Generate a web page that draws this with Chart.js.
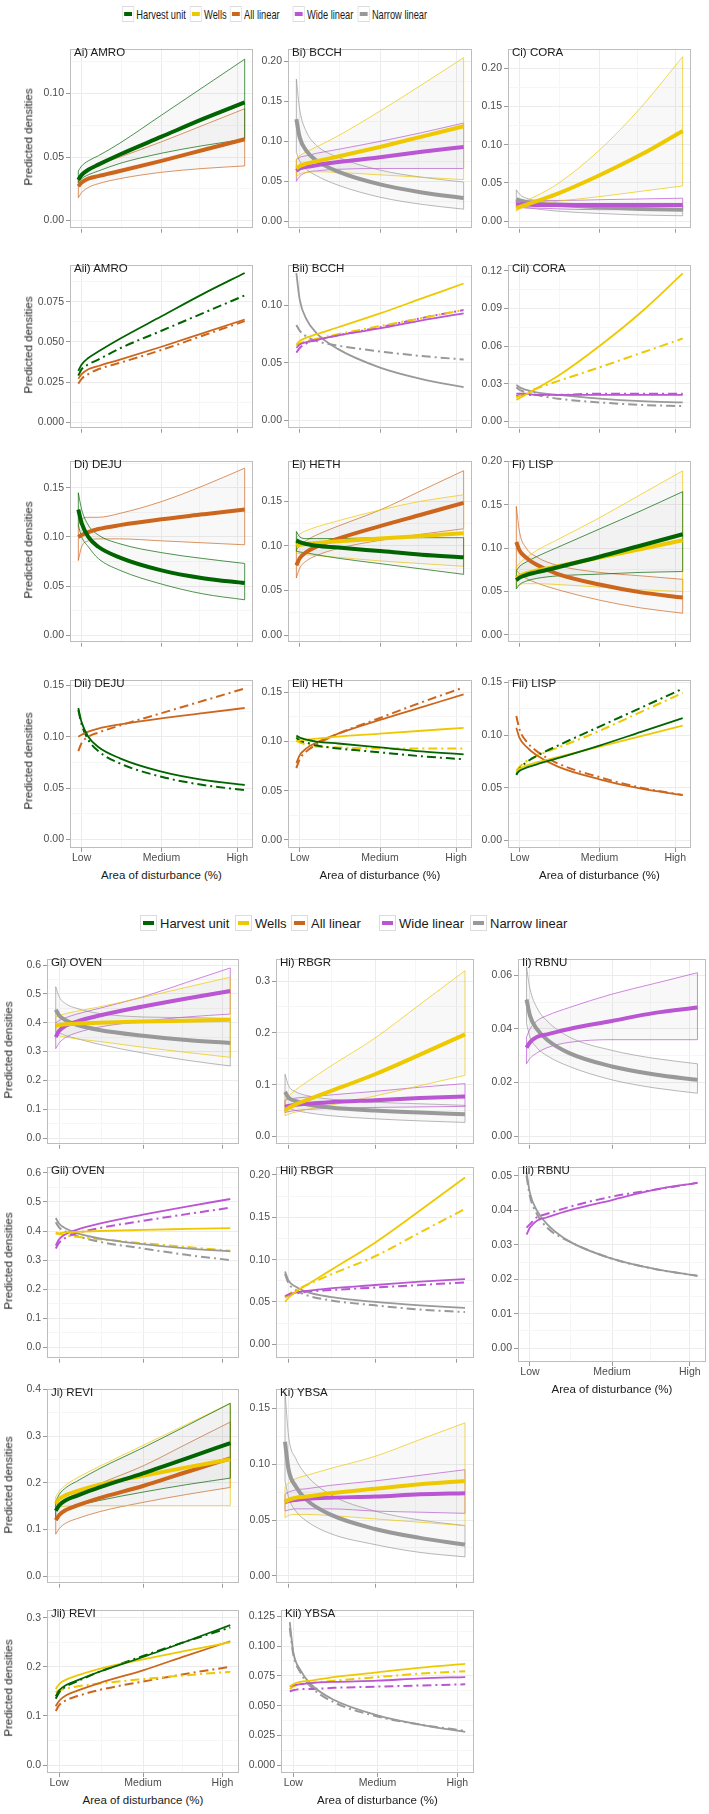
<!DOCTYPE html>
<html lang="en">
<head>
<meta charset="UTF-8"/>
<title>Predicted densities by disturbance type</title>
<script src="https://cdn.jsdelivr.net/npm/chart.js"></script>
<style>
  body { margin: 0; background: #fff; font-family: 'Liberation Sans', Arial, sans-serif; }
  #fig { position: relative; width: 709px; height: 1814px; overflow: hidden; }
  canvas { position: absolute; }
  .lab { position: absolute; font-size: 11.5px; color: #1a1a1a; white-space: nowrap; line-height: 1; }
  .ytitle { position: absolute; font-size: 11.5px; color: #1a1a1a; white-space: nowrap; line-height: 1;
            transform: translate(-50%, -50%) rotate(-90deg); }
  .xtitle { position: absolute; font-size: 11.5px; color: #1a1a1a; white-space: nowrap; line-height: 1;
            transform: translate(-50%, -50%); }
  .legend { position: absolute; height: 17px; width: 440px; font-size: 13px; color: #1a1a1a; }
  .legend .key { position: absolute; top: 0; width: 17px; height: 16px; border: 1px solid #dcdcdc;
                 background: #fff; box-sizing: border-box; }
  .legend .key i { position: absolute; left: 2px; right: 2px; top: 5px; height: 4px; }
  .legend .txt { position: absolute; top: 1px; line-height: 15px; white-space: nowrap; }
</style>
</head>
<body>
<div id="fig"></div>
<script>
  // x positions of the fitted points (0 = lowest, 1 = highest disturbance)
  const X = [0, 0.02, 0.06, 0.12, 0.25, 0.5, 0.75, 1];
  const xTickPos = [0.02, 0.5, 0.955];
  const xTickLabels = ['Low', 'Medium', 'High'];
  const seriesNames = ['Harvest unit', 'Wells', 'All linear', 'Wide linear', 'Narrow linear'];
  const seriesColors = ['#006400', '#EEC900', '#CD661D', '#BA55D3', '#999999'];

  // AMRO
  const amroHarvest   = [0.032, 0.036, 0.040, 0.044, 0.052, 0.066, 0.080, 0.093];
  const amroHarvestLo = [0.030, 0.033, 0.036, 0.039, 0.045, 0.053, 0.059, 0.064];
  const amroHarvestHi = [0.039, 0.043, 0.047, 0.051, 0.061, 0.083, 0.105, 0.127];
  const amroHarvestAlt = [0.029, 0.033, 0.036, 0.039, 0.046, 0.057, 0.068, 0.079];
  const amroAll   = [0.027, 0.030, 0.033, 0.035, 0.039, 0.047, 0.0555, 0.064];
  const amroAllLo = [0.018, 0.022, 0.026, 0.029, 0.033, 0.038, 0.041, 0.043];
  const amroAllHi = [0.033, 0.037, 0.041, 0.044, 0.050, 0.062, 0.075, 0.088];
  const amroAllAlt = [0.024, 0.027, 0.030, 0.033, 0.037, 0.045, 0.054, 0.063];

  // BCCH
  const bcchWells   = [0.066, 0.069, 0.072, 0.075, 0.081, 0.093, 0.106, 0.119];
  const bcchWellsLo = [0.056, 0.059, 0.061, 0.062, 0.061, 0.058, 0.055, 0.052];
  const bcchWellsHi = [0.078, 0.082, 0.087, 0.093, 0.107, 0.138, 0.171, 0.205];
  const bcchWellsAlt = [0.065, 0.067, 0.069, 0.071, 0.075, 0.082, 0.089, 0.096];
  const bcchWide   = [0.063, 0.066, 0.068, 0.070, 0.074, 0.080, 0.087, 0.093];
  const bcchWideLo = [0.050, 0.056, 0.061, 0.063, 0.065, 0.066, 0.066, 0.066];
  const bcchWideHi = [0.077, 0.080, 0.082, 0.085, 0.090, 0.100, 0.111, 0.123];
  const bcchWideAlt = [0.059, 0.063, 0.067, 0.070, 0.074, 0.081, 0.089, 0.096];
  const bcchNarrow   = [0.128, 0.105, 0.088, 0.076, 0.062, 0.046, 0.036, 0.029];
  const bcchNarrowLo = [0.086, 0.075, 0.065, 0.057, 0.045, 0.030, 0.021, 0.015];
  const bcchNarrowHi = [0.178, 0.140, 0.112, 0.095, 0.080, 0.064, 0.055, 0.049];
  const bcchNarrowAlt = [0.083, 0.078, 0.073, 0.069, 0.065, 0.060, 0.056, 0.053];

  // CORA
  const coraWells   = [0.017, 0.0185, 0.0215, 0.026, 0.036, 0.060, 0.087, 0.118];
  const coraWellsLo = [0.013, 0.016, 0.019, 0.022, 0.026, 0.032, 0.039, 0.046];
  const coraWellsHi = [0.021, 0.023, 0.027, 0.033, 0.049, 0.093, 0.149, 0.215];
  const coraWellsAlt = [0.019, 0.0205, 0.023, 0.026, 0.032, 0.043, 0.0545, 0.066];
  const coraWide   = [0.022, 0.022, 0.022, 0.021, 0.021, 0.021, 0.021, 0.021];
  const coraWideLo = [0.018, 0.018, 0.017, 0.017, 0.016, 0.015, 0.015, 0.014];
  const coraWideHi = [0.026, 0.026, 0.026, 0.027, 0.027, 0.028, 0.029, 0.030];
  const coraWideAlt = [0.020, 0.021, 0.021, 0.021, 0.021, 0.022, 0.022, 0.022];
  const coraNarrow   = [0.029, 0.027, 0.025, 0.023, 0.021, 0.018, 0.016, 0.015];
  const coraNarrowLo = [0.022, 0.020, 0.018, 0.016, 0.013, 0.010, 0.008, 0.007];
  const coraNarrowHi = [0.041, 0.035, 0.030, 0.027, 0.024, 0.022, 0.021, 0.020];
  const coraNarrowAlt = [0.027, 0.025, 0.023, 0.021, 0.018, 0.015, 0.013, 0.012];

  // DEJU
  const dejuHarvest   = [0.128, 0.114, 0.100, 0.090, 0.079, 0.066, 0.058, 0.053];
  const dejuHarvestLo = [0.112, 0.100, 0.090, 0.078, 0.066, 0.052, 0.042, 0.036];
  const dejuHarvestHi = [0.145, 0.128, 0.112, 0.102, 0.093, 0.084, 0.078, 0.073];
  const dejuHarvestAlt = [0.126, 0.112, 0.097, 0.086, 0.074, 0.061, 0.053, 0.048];
  const dejuAll   = [0.100, 0.102, 0.105, 0.108, 0.112, 0.118, 0.123, 0.128];
  const dejuAllLo = [0.076, 0.090, 0.096, 0.098, 0.098, 0.096, 0.094, 0.092];
  const dejuAllHi = [0.112, 0.118, 0.120, 0.120, 0.124, 0.136, 0.152, 0.170];
  const dejuAllAlt = [0.086, 0.094, 0.100, 0.104, 0.111, 0.123, 0.135, 0.147];

  // HETH
  const hethHarvest   = [0.106, 0.104, 0.102, 0.100, 0.098, 0.094, 0.090, 0.087];
  const hethHarvestLo = [0.094, 0.093, 0.092, 0.090, 0.086, 0.080, 0.074, 0.068];
  const hethHarvestHi = [0.116, 0.110, 0.108, 0.108, 0.108, 0.109, 0.109, 0.109];
  const hethHarvestAlt = [0.104, 0.101, 0.099, 0.096, 0.093, 0.089, 0.085, 0.082];
  const hethWells   = [0.100, 0.101, 0.102, 0.103, 0.105, 0.108, 0.111, 0.114];
  const hethWellsLo = [0.092, 0.091, 0.090, 0.089, 0.087, 0.083, 0.080, 0.077];
  const hethWellsHi = [0.109, 0.113, 0.117, 0.121, 0.128, 0.140, 0.150, 0.157];
  const hethWellsAlt = [0.101, 0.099, 0.097, 0.095, 0.094, 0.093, 0.093, 0.093];
  const hethAll   = [0.078, 0.086, 0.093, 0.099, 0.108, 0.122, 0.135, 0.148];
  const hethAllLo = [0.064, 0.075, 0.083, 0.089, 0.097, 0.106, 0.113, 0.119];
  const hethAllHi = [0.095, 0.100, 0.106, 0.112, 0.122, 0.140, 0.162, 0.184];
  const hethAllAlt = [0.073, 0.082, 0.090, 0.097, 0.108, 0.124, 0.140, 0.155];

  // LISP
  const lispHarvest   = [0.063, 0.066, 0.069, 0.072, 0.078, 0.090, 0.103, 0.116];
  const lispHarvestLo = [0.053, 0.058, 0.062, 0.065, 0.068, 0.070, 0.072, 0.073];
  const lispHarvestHi = [0.074, 0.079, 0.084, 0.090, 0.101, 0.122, 0.143, 0.165];
  const lispHarvestAlt = [0.062, 0.068, 0.074, 0.080, 0.090, 0.108, 0.126, 0.144];
  const lispWells   = [0.065, 0.068, 0.071, 0.074, 0.079, 0.089, 0.099, 0.109];
  const lispWellsLo = [0.055, 0.058, 0.059, 0.059, 0.058, 0.055, 0.052, 0.050];
  const lispWellsHi = [0.078, 0.083, 0.089, 0.097, 0.110, 0.135, 0.162, 0.189];
  const lispWellsAlt = [0.066, 0.070, 0.075, 0.080, 0.088, 0.104, 0.122, 0.140];
  const lispAll   = [0.107, 0.097, 0.089, 0.081, 0.070, 0.058, 0.049, 0.043];
  const lispAllLo = [0.075, 0.070, 0.065, 0.060, 0.052, 0.040, 0.031, 0.025];
  const lispAllHi = [0.148, 0.118, 0.100, 0.090, 0.080, 0.072, 0.068, 0.064];
  const lispAllAlt = [0.118, 0.105, 0.094, 0.085, 0.073, 0.060, 0.050, 0.043];

  // OVEN
  const ovenWells   = [0.390, 0.392, 0.395, 0.397, 0.400, 0.404, 0.407, 0.410];
  const ovenWellsLo = [0.360, 0.355, 0.350, 0.344, 0.335, 0.315, 0.297, 0.280];
  const ovenWellsHi = [0.420, 0.425, 0.432, 0.440, 0.455, 0.488, 0.523, 0.558];
  const ovenWellsAlt = [0.395, 0.390, 0.385, 0.380, 0.372, 0.358, 0.345, 0.332];
  const ovenWide   = [0.350, 0.372, 0.390, 0.404, 0.425, 0.456, 0.484, 0.510];
  const ovenWideLo = [0.310, 0.330, 0.350, 0.365, 0.385, 0.405, 0.420, 0.430];
  const ovenWideHi = [0.400, 0.408, 0.418, 0.430, 0.450, 0.490, 0.540, 0.590];
  const ovenWideAlt = [0.340, 0.360, 0.378, 0.392, 0.410, 0.435, 0.458, 0.480];
  const ovenNarrow   = [0.445, 0.425, 0.408, 0.393, 0.375, 0.355, 0.340, 0.330];
  const ovenNarrowLo = [0.370, 0.365, 0.355, 0.345, 0.325, 0.295, 0.270, 0.250];
  const ovenNarrowHi = [0.525, 0.490, 0.465, 0.450, 0.432, 0.420, 0.418, 0.415];
  const ovenNarrowAlt = [0.430, 0.412, 0.397, 0.383, 0.363, 0.340, 0.318, 0.300];

  // RBGR
  const rbgrWells   = [0.050, 0.055, 0.062, 0.070, 0.087, 0.120, 0.158, 0.197];
  const rbgrWellsLo = [0.040, 0.043, 0.047, 0.052, 0.060, 0.078, 0.098, 0.118];
  const rbgrWellsHi = [0.070, 0.078, 0.090, 0.105, 0.135, 0.190, 0.255, 0.320];
  const rbgrWellsAlt = [0.055, 0.059, 0.064, 0.070, 0.082, 0.104, 0.132, 0.160];
  const rbgrWide   = [0.057, 0.059, 0.061, 0.063, 0.066, 0.070, 0.074, 0.077];
  const rbgrWideLo = [0.046, 0.048, 0.050, 0.052, 0.054, 0.056, 0.057, 0.058];
  const rbgrWideHi = [0.070, 0.072, 0.074, 0.076, 0.080, 0.087, 0.095, 0.102];
  const rbgrWideAlt = [0.056, 0.058, 0.060, 0.062, 0.064, 0.067, 0.070, 0.073];
  const rbgrNarrow   = [0.086, 0.075, 0.068, 0.062, 0.056, 0.050, 0.046, 0.043];
  const rbgrNarrowLo = [0.060, 0.055, 0.050, 0.046, 0.040, 0.034, 0.030, 0.027];
  const rbgrNarrowHi = [0.120, 0.098, 0.086, 0.079, 0.072, 0.066, 0.063, 0.060];
  const rbgrNarrowAlt = [0.083, 0.072, 0.064, 0.058, 0.052, 0.046, 0.041, 0.038];

  // RBNU
  const rbnuWide   = [0.033, 0.035, 0.037, 0.038, 0.040, 0.043, 0.046, 0.048];
  const rbnuWideLo = [0.027, 0.029, 0.031, 0.033, 0.035, 0.036, 0.036, 0.036];
  const rbnuWideHi = [0.037, 0.040, 0.043, 0.045, 0.048, 0.053, 0.057, 0.061];
  const rbnuWideAlt = [0.035, 0.036, 0.038, 0.039, 0.041, 0.044, 0.046, 0.048];
  const rbnuNarrow   = [0.051, 0.045, 0.040, 0.036, 0.031, 0.026, 0.023, 0.021];
  const rbnuNarrowLo = [0.042, 0.037, 0.033, 0.030, 0.026, 0.021, 0.018, 0.016];
  const rbnuNarrowHi = [0.063, 0.055, 0.048, 0.043, 0.037, 0.032, 0.029, 0.027];
  const rbnuNarrowAlt = [0.050, 0.044, 0.039, 0.035, 0.031, 0.026, 0.023, 0.021];

  // REVI
  const reviHarvest   = [0.140, 0.152, 0.163, 0.172, 0.190, 0.220, 0.252, 0.285];
  const reviHarvestLo = [0.122, 0.133, 0.142, 0.150, 0.162, 0.180, 0.196, 0.210];
  const reviHarvestHi = [0.160, 0.175, 0.190, 0.203, 0.230, 0.275, 0.322, 0.370];
  const reviHarvestAlt = [0.135, 0.148, 0.160, 0.170, 0.190, 0.222, 0.252, 0.280];
  const reviWells   = [0.155, 0.165, 0.174, 0.182, 0.196, 0.215, 0.233, 0.250];
  const reviWellsLo = [0.145, 0.148, 0.150, 0.151, 0.151, 0.151, 0.151, 0.151];
  const reviWellsHi = [0.170, 0.182, 0.196, 0.210, 0.235, 0.280, 0.325, 0.370];
  const reviWellsAlt = [0.148, 0.152, 0.156, 0.160, 0.166, 0.175, 0.183, 0.190];
  const reviAll   = [0.120, 0.131, 0.142, 0.151, 0.167, 0.193, 0.223, 0.252];
  const reviAllLo = [0.090, 0.102, 0.114, 0.123, 0.138, 0.158, 0.175, 0.190];
  const reviAllHi = [0.140, 0.152, 0.165, 0.177, 0.198, 0.236, 0.283, 0.330];
  const reviAllAlt = [0.110, 0.122, 0.132, 0.140, 0.153, 0.170, 0.186, 0.200];

  // YBSA
  const ybsaWells   = [0.066, 0.068, 0.070, 0.071, 0.074, 0.078, 0.082, 0.085];
  const ybsaWellsLo = [0.052, 0.054, 0.055, 0.055, 0.054, 0.051, 0.048, 0.045];
  const ybsaWellsHi = [0.080, 0.083, 0.087, 0.090, 0.096, 0.107, 0.122, 0.137];
  const ybsaWellsAlt = [0.064, 0.066, 0.068, 0.069, 0.071, 0.074, 0.077, 0.079];
  const ybsaWide   = [0.066, 0.067, 0.068, 0.069, 0.070, 0.071, 0.073, 0.074];
  const ybsaWideLo = [0.058, 0.059, 0.060, 0.060, 0.060, 0.058, 0.057, 0.056];
  const ybsaWideHi = [0.073, 0.075, 0.077, 0.078, 0.081, 0.085, 0.090, 0.095];
  const ybsaWideAlt = [0.062, 0.063, 0.064, 0.064, 0.065, 0.066, 0.067, 0.068];
  const ybsaNarrow   = [0.120, 0.095, 0.080, 0.068, 0.055, 0.042, 0.034, 0.028];
  const ybsaNarrowLo = [0.085, 0.070, 0.058, 0.049, 0.038, 0.028, 0.021, 0.017];
  const ybsaNarrowHi = [0.165, 0.125, 0.105, 0.090, 0.073, 0.058, 0.050, 0.045];
  const ybsaNarrowAlt = [0.115, 0.093, 0.078, 0.066, 0.053, 0.041, 0.034, 0.029];

  // panel layout: box = [left, top, width, height] of the plot area
  const H = 0, W = 1, A = 2, WL = 3, N = 4;
  const panels = [
    { label: 'Ai) AMRO', box: [70, 42, 183, 190], y: [-0.0064, 0.1348], step: 0.05, dec: 2, yTitle: 29,
      ci: [[H, amroHarvest, amroHarvestLo, amroHarvestHi], [A, amroAll, amroAllLo, amroAllHi]] },
    { label: 'Bi) BCCH', box: [288, 42, 184, 190], y: [-0.0095, 0.2154], step: 0.05, dec: 2,
      ci: [[W, bcchWells, bcchWellsLo, bcchWellsHi], [WL, bcchWide, bcchWideLo, bcchWideHi], [N, bcchNarrow, bcchNarrowLo, bcchNarrowHi]] },
    { label: 'Ci) CORA', box: [508, 42, 183, 190], y: [-0.0099, 0.2247], step: 0.05, dec: 2,
      ci: [[W, coraWells, coraWellsLo, coraWellsHi], [WL, coraWide, coraWideLo, coraWideHi], [N, coraNarrow, coraNarrowLo, coraNarrowHi]] },
    { label: 'Aii) AMRO', box: [70, 258, 183, 174], y: [-0.0041, 0.0978], step: 0.025, dec: 3, yTitle: 29,
      alt: [[H, amroHarvest, amroHarvestAlt], [A, amroAll, amroAllAlt]] },
    { label: 'Bii) BCCH', box: [288, 258, 184, 174], y: [-0.0071, 0.1348], step: 0.05, dec: 2,
      alt: [[W, bcchWells, bcchWellsAlt], [WL, bcchWide, bcchWideAlt], [N, bcchNarrow, bcchNarrowAlt]] },
    { label: 'Cii) CORA', box: [508, 258, 183, 174], y: [-0.006, 0.1245], step: 0.03, dec: 2,
      alt: [[W, coraWells, coraWellsAlt], [WL, coraWide, coraWideAlt], [N, coraNarrow, coraNarrowAlt]] },
    { label: 'Di) DEJU', box: [70, 454, 183, 192], y: [-0.0077, 0.177], step: 0.05, dec: 2, yTitle: 29,
      ci: [[H, dejuHarvest, dejuHarvestLo, dejuHarvestHi], [A, dejuAll, dejuAllLo, dejuAllHi]] },
    { label: 'Ei) HETH', box: [288, 454, 184, 192], y: [-0.0085, 0.1945], step: 0.05, dec: 2,
      ci: [[H, hethHarvest, hethHarvestLo, hethHarvestHi], [W, hethWells, hethWellsLo, hethWellsHi], [A, hethAll, hethAllLo, hethAllHi]] },
    { label: 'Fi) LISP', box: [508, 454, 183, 192], y: [-0.009, 0.2], step: 0.05, dec: 2,
      ci: [[H, lispHarvest, lispHarvestLo, lispHarvestHi], [W, lispWells, lispWellsLo, lispWellsHi], [A, lispAll, lispAllLo, lispAllHi]] },
    { label: 'Dii) DEJU', box: [70, 673, 183, 175], y: [-0.0084, 0.155], step: 0.05, dec: 2, yTitle: 29, xLabels: true,
      alt: [[H, dejuHarvest, dejuHarvestAlt], [A, dejuAll, dejuAllAlt]] },
    { label: 'Eii) HETH', box: [288, 673, 184, 175], y: [-0.0083, 0.1623], step: 0.05, dec: 2, xLabels: true,
      alt: [[H, hethHarvest, hethHarvestAlt], [W, hethWells, hethWellsAlt], [A, hethAll, hethAllAlt]] },
    { label: 'Fii) LISP', box: [508, 673, 183, 175], y: [-0.0073, 0.152], step: 0.05, dec: 2, xLabels: true,
      alt: [[H, lispHarvest, lispHarvestAlt], [W, lispWells, lispWellsAlt], [A, lispAll, lispAllAlt]] },

    { label: 'Gi) OVEN', box: [47, 952, 192, 196], y: [-0.023, 0.62], step: 0.1, dec: 1, yTitle: 9,
      ci: [[W, ovenWells, ovenWellsLo, ovenWellsHi], [WL, ovenWide, ovenWideLo, ovenWideHi], [N, ovenNarrow, ovenNarrowLo, ovenNarrowHi]] },
    { label: 'Hi) RBGR', box: [276, 952, 198, 196], y: [-0.016, 0.342], step: 0.1, dec: 1,
      ci: [[W, rbgrWells, rbgrWellsLo, rbgrWellsHi], [WL, rbgrWide, rbgrWideLo, rbgrWideHi], [N, rbgrNarrow, rbgrNarrowLo, rbgrNarrowHi]] },
    { label: 'Ii) RBNU', box: [518, 952, 188, 196], y: [-0.0032, 0.066], step: 0.02, dec: 2,
      ci: [[WL, rbnuWide, rbnuWideLo, rbnuWideHi], [N, rbnuNarrow, rbnuNarrowLo, rbnuNarrowHi]] },
    { label: 'Gii) OVEN', box: [47, 1160, 192, 202], y: [-0.039, 0.619], step: 0.1, dec: 1, yTitle: 9,
      alt: [[W, ovenWells, ovenWellsAlt], [WL, ovenWide, ovenWideAlt], [N, ovenNarrow, ovenNarrowAlt]] },
    { label: 'Hii) RBGR', box: [276, 1160, 198, 202], y: [-0.017, 0.209], step: 0.05, dec: 2,
      alt: [[W, rbgrWells, rbgrWellsAlt], [WL, rbgrWide, rbgrWideAlt], [N, rbgrNarrow, rbgrNarrowAlt]] },
    { label: 'Iii) RBNU', box: [518, 1160, 188, 202], y: [-0.004, 0.0525], step: 0.01, dec: 2, xLabels: true,
      alt: [[WL, rbnuWide, rbnuWideAlt], [N, rbnuNarrow, rbnuNarrowAlt]] },
    { label: 'Ji) REVI', box: [47, 1382, 192, 205], y: [-0.016, 0.40], step: 0.1, dec: 1, yTitle: 9,
      ci: [[H, reviHarvest, reviHarvestLo, reviHarvestHi], [W, reviWells, reviWellsLo, reviWellsHi], [A, reviAll, reviAllLo, reviAllHi]] },
    { label: 'Ki) YBSA', box: [276, 1382, 198, 205], y: [-0.007, 0.167], step: 0.05, dec: 2,
      ci: [[W, ybsaWells, ybsaWellsLo, ybsaWellsHi], [WL, ybsaWide, ybsaWideLo, ybsaWideHi], [N, ybsaNarrow, ybsaNarrowLo, ybsaNarrowHi]] },
    { label: 'Jii) REVI', box: [47, 1603, 192, 170], y: [-0.016, 0.315], step: 0.1, dec: 1, yTitle: 9, xLabels: true,
      alt: [[H, reviHarvest, reviHarvestAlt], [W, reviWells, reviWellsAlt], [A, reviAll, reviAllAlt]] },
    { label: 'Kii) YBSA', box: [281, 1603, 193, 170], y: [-0.0064, 0.13], step: 0.025, dec: 3, xLabels: true,
      alt: [[W, ybsaWells, ybsaWellsAlt], [WL, ybsaWide, ybsaWideAlt], [N, ybsaNarrow, ybsaNarrowAlt]] }
  ];

  const fig = document.getElementById('fig');
  const tickFont = { family: "'Liberation Sans', Arial, sans-serif", size: 10.5 };
  const pts = arr => arr.map((v, i) => ({ x: X[i], y: v }));

  const boxPlugin = {
    id: 'panelBox',
    afterDatasetsDraw(chart) {
      const a = chart.chartArea, c = chart.ctx;
      c.save();
      c.strokeStyle = '#bdbdbd';
      c.lineWidth = 1;
      c.strokeRect(Math.round(a.left) + 0.5, Math.round(a.top) + 0.5,
                   Math.round(a.right - a.left) - 1, Math.round(a.bottom - a.top) - 1);
      c.restore();
    }
  };

  function buildDatasets(p) {
    const ds = [];
    if (p.ci) {
      p.ci.forEach(([s, mean, lo, hi]) => {
        const col = seriesColors[s];
        ds.push({ data: pts(hi), borderColor: col, borderWidth: 0.7, fill: '+1',
                  backgroundColor: 'rgba(150,150,150,0.07)', order: 5 });
        ds.push({ data: pts(lo), borderColor: col, borderWidth: 0.7, fill: false, order: 5 });
        const last = X.length - 1;
        ds.push({ data: [{ x: X[last], y: lo[last] }, { x: X[last], y: hi[last] }], borderColor: col,
                  borderWidth: 0.7, fill: false, cubicInterpolationMode: 'default', tension: 0, order: 5 });
        ds.push({ data: [{ x: X[0], y: lo[0] }, { x: X[0], y: hi[0] }], borderColor: col,
                  borderWidth: 0.7, fill: false, cubicInterpolationMode: 'default', tension: 0, order: 5 });
      });
      p.ci.forEach(([s, mean]) => {
        ds.push({ data: pts(mean), borderColor: seriesColors[s], borderWidth: 4, fill: false, order: 1 });
      });
    } else {
      p.alt.forEach(([s, solid, dash]) => {
        const col = seriesColors[s];
        ds.push({ data: pts(dash), borderColor: col, borderWidth: 2, borderDash: [9, 4, 2, 4], fill: false, order: 2 });
        ds.push({ data: pts(solid), borderColor: col, borderWidth: 1.8, fill: false, order: 1 });
      });
    }
    ds.forEach(d => { d.pointRadius = 0; if (!d.cubicInterpolationMode) d.cubicInterpolationMode = 'monotone'; });
    return ds;
  }

  function makePanel(p) {
    const [bl, bt, bw, bh] = p.box;
    const AW = 44, XH = p.xLabels ? 20 : 5;
    const cv = document.createElement('canvas');
    cv.width = AW + bw + 1;
    cv.height = bh + 1 + XH;
    cv.style.left = (bl - AW) + 'px';
    cv.style.top = (bt - 1) + 'px';
    fig.appendChild(cv);

    new Chart(cv, {
      type: 'line',
      data: { datasets: buildDatasets(p) },
      options: {
        responsive: false,
        animation: false,
        events: [],
        layout: { padding: { left: 0, right: 1, top: 1, bottom: 0 } },
        plugins: { legend: { display: false }, tooltip: { enabled: false } },
        scales: {
          x: {
            type: 'linear', min: -0.05, max: 1.05,
            afterBuildTicks: s => {
              s.ticks = [{ value: xTickPos[0], mj: 0 }, { value: (xTickPos[0] + xTickPos[1]) / 2 },
                         { value: xTickPos[1], mj: 1 }, { value: (xTickPos[1] + xTickPos[2]) / 2 },
                         { value: xTickPos[2], mj: 2 }];
            },
            afterFit: s => { s.height = XH; },
            border: { display: false },
            grid: {
              color: c => c.tick && c.tick.mj !== undefined ? '#ececec' : '#f6f6f6',
              tickColor: c => c.tick && c.tick.mj !== undefined ? '#9a9a9a' : 'rgba(0,0,0,0)',
              tickLength: 4
            },
            ticks: {
              display: !!p.xLabels, autoSkip: false, maxRotation: 0, padding: 0,
              font: tickFont, color: '#4d4d4d',
              callback: (v, i, t) => t[i].mj !== undefined ? xTickLabels[t[i].mj] : ''
            }
          },
          y: {
            min: p.y[0], max: p.y[1],
            afterBuildTicks: s => {
              const t = [], half = p.step / 2;
              for (let k = 0; k * half <= p.y[1] + 1e-9; k++) t.push({ value: +(k * half).toFixed(6), mj: k % 2 === 0 });
              s.ticks = t;
            },
            afterFit: s => { s.width = AW; },
            border: { display: false },
            grid: {
              color: c => c.tick && c.tick.mj ? '#ececec' : '#f6f6f6',
              tickColor: c => c.tick && c.tick.mj ? '#9a9a9a' : 'rgba(0,0,0,0)',
              tickLength: 4
            },
            ticks: {
              autoSkip: false, padding: 2, font: tickFont, color: '#4d4d4d',
              callback: (v, i, t) => t[i].mj ? v.toFixed(p.dec) : ''
            }
          }
        }
      },
      plugins: [boxPlugin]
    });

    const lab = document.createElement('div');
    lab.className = 'lab';
    lab.textContent = p.label;
    lab.style.left = (bl + 4) + 'px';
    lab.style.top = (bt + 5) + 'px';
    fig.appendChild(lab);

    if (p.yTitle !== undefined) {
      const yt = document.createElement('div');
      yt.className = 'ytitle';
      yt.textContent = 'Predicted densities';
      yt.style.left = p.yTitle + 'px';
      yt.style.top = (bt + bh / 2) + 'px';
      fig.appendChild(yt);
    }
    if (p.xLabels) {
      const xt = document.createElement('div');
      xt.className = 'xtitle';
      xt.textContent = 'Area of disturbance (%)';
      xt.style.left = (bl + bw / 2) + 'px';
      xt.style.top = (bt + bh + 28) + 'px';
      fig.appendChild(xt);
    }
  }

  // legend: key offsets within a legend row
  const legendOffsets = [0, 95, 151, 239, 330];
  function makeLegend(left, top, squeeze) {
    const lg = document.createElement('div');
    lg.className = 'legend';
    lg.style.left = left + 'px';
    lg.style.top = top + 'px';
    lg.style.transformOrigin = 'left top';
    lg.style.transform = 'scaleX(' + squeeze + ')';
    seriesNames.forEach((name, i) => {
      const k = document.createElement('div');
      k.className = 'key';
      k.style.left = legendOffsets[i] + 'px';
      const bar = document.createElement('i');
      bar.style.background = seriesColors[i];
      k.appendChild(bar);
      lg.appendChild(k);
      const t = document.createElement('div');
      t.className = 'txt';
      t.style.left = (legendOffsets[i] + 20) + 'px';
      t.textContent = name;
      lg.appendChild(t);
    });
    fig.appendChild(lg);
  }

  makeLegend(122, 6, 0.714);
  makeLegend(140, 915, 1);
  panels.forEach(makePanel);
</script>
</body>
</html>
